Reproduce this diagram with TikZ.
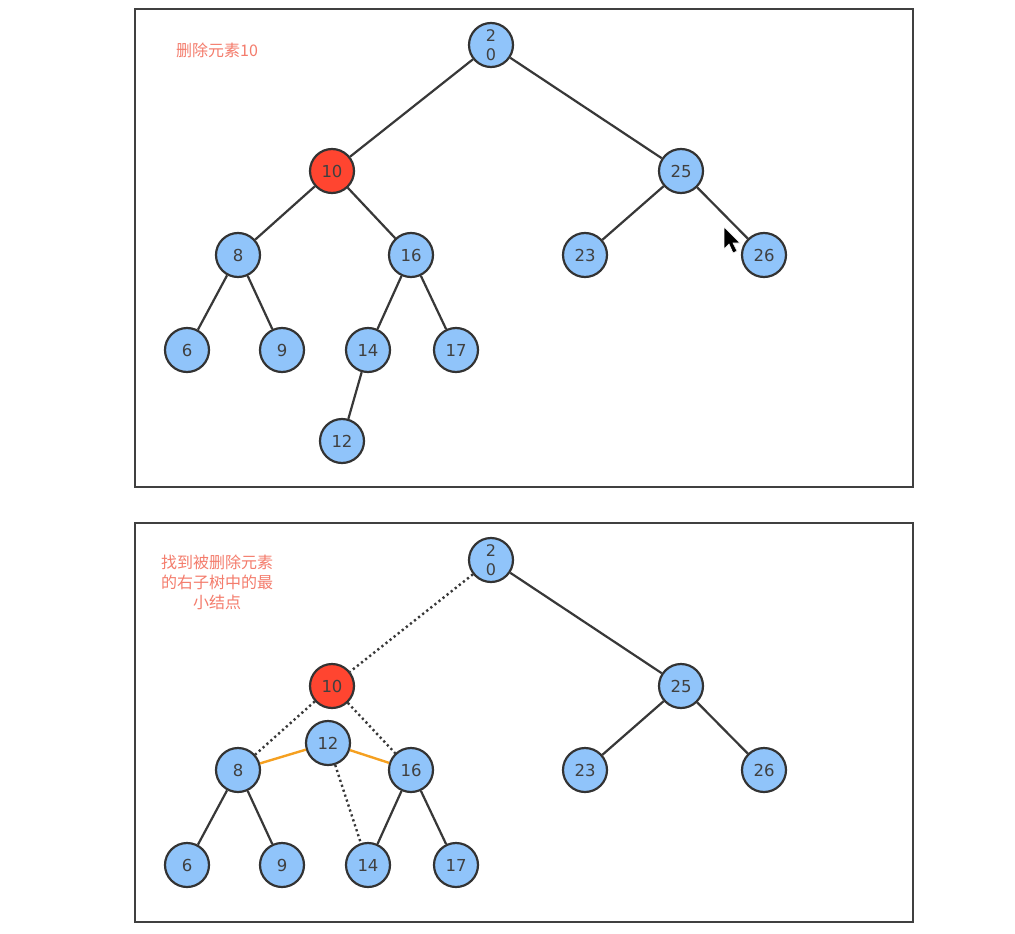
\documentclass[tikz,border=0pt]{standalone}
\usepackage{fontspec}
\setmainfont{DejaVu Sans}
\newfontfamily\cjk{Noto Sans CJK SC}
\begin{document}
\begin{tikzpicture}[x=1pt,y=-1pt,
  tnode/.style={circle,draw=black!80,line width=2.2pt,fill=nodeblue,minimum size=44pt,inner sep=0pt,
    font=\fontsize{16.5}{16}\selectfont,text=black!75},
  rootnode/.style={tnode,align=center,font=\fontsize{16}{19}\selectfont},
  hot/.style={tnode,fill=hotred},
  edge/.style={draw=black!78,line width=2.2pt},
  dotedge/.style={draw=black!78,line width=2.4pt,dash pattern=on 2.2pt off 3pt},
  swapedge/.style={draw=swaporange,line width=2.4pt},
  frame/.style={draw=black!75,line width=1.8pt},
  note/.style={text=notecolor,font=\cjk\fontsize{16}{20}\selectfont,align=center}]
\definecolor{nodeblue}{HTML}{90C4FA}
\definecolor{hotred}{HTML}{FF4530}
\definecolor{swaporange}{HTML}{F5A020}
\definecolor{notecolor}{HTML}{F47C6C}
\useasboundingbox (0,0) rectangle (1015,934);
\fill[white] (0,0) rectangle (1015,934);

% ---- upper panel: delete 10 ----
\draw[frame] (135,9) rectangle (913,487);
\node[note] (t1) at (217,50) {删除元素10};
\node[rootnode] (a20) at (491,45) {2\\0};
\node[hot] (a10) at (332,171) {10};
\node[tnode] (a25) at (681,171) {25};
\node[tnode] (a8) at (238,255) {8};
\node[tnode] (a16) at (411,255) {16};
\node[tnode] (a23) at (585,255) {23};
\node[tnode] (a26) at (764,255) {26};
\node[tnode] (a6) at (187,350) {6};
\node[tnode] (a9) at (282,350) {9};
\node[tnode] (a14) at (368,350) {14};
\node[tnode] (a17) at (456,350) {17};
\node[tnode] (a12) at (342,441) {12};
\draw[edge] (a20) -- (a10);
\draw[edge] (a20) -- (a25);
\draw[edge] (a10) -- (a8);
\draw[edge] (a10) -- (a16);
\draw[edge] (a25) -- (a23);
\draw[edge] (a25) -- (a26);
\draw[edge] (a8) -- (a6);
\draw[edge] (a8) -- (a9);
\draw[edge] (a16) -- (a14);
\draw[edge] (a16) -- (a17);
\draw[edge] (a14) -- (a12);

% mouse pointer
\filldraw[fill=black,draw=white,line width=0.6pt]
  (724,227) -- (724,249) -- (729,244) -- (733,253) -- (737,251) -- (733,243) -- (740,243) -- cycle;

% ---- lower panel: find minimum of right subtree ----
\draw[frame] (135,523) rectangle (913,922);
\node[note] (t2) at (217,582) {找到被删除元素\\的右子树中的最\\小结点};
\node[rootnode] (b20) at (491,560) {2\\0};
\node[hot] (b10) at (332,686) {10};
\node[tnode] (b25) at (681,686) {25};
\node[tnode] (b8) at (238,770) {8};
\node[tnode] (b12) at (328,743) {12};
\node[tnode] (b16) at (411,770) {16};
\node[tnode] (b23) at (585,770) {23};
\node[tnode] (b26) at (764,770) {26};
\node[tnode] (b6) at (187,865) {6};
\node[tnode] (b9) at (282,865) {9};
\node[tnode] (b14) at (368,865) {14};
\node[tnode] (b17) at (456,865) {17};
\draw[dotedge] (b20) -- (b10);
\draw[edge] (b20) -- (b25);
\draw[dotedge] (b10) -- (b8);
\draw[dotedge] (b10) -- (b16);
\draw[swapedge] (b8) -- (b12);
\draw[swapedge] (b12) -- (b16);
\draw[dotedge] (b12) -- (b14);
\draw[edge] (b25) -- (b23);
\draw[edge] (b25) -- (b26);
\draw[edge] (b8) -- (b6);
\draw[edge] (b8) -- (b9);
\draw[edge] (b16) -- (b14);
\draw[edge] (b16) -- (b17);
\end{tikzpicture}
\end{document}
